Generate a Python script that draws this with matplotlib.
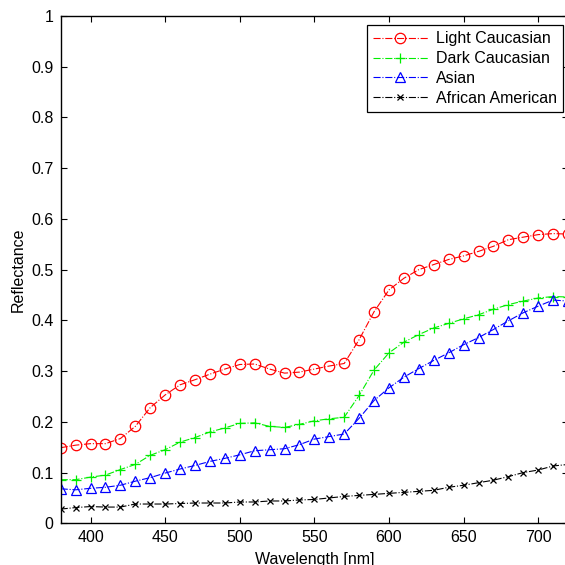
import matplotlib
matplotlib.use('Agg')
import matplotlib.pyplot as plt

# Skin reflectance spectra, 380-720 nm in 10 nm steps.
wavelength = list(range(380, 721, 10))

light_caucasian = [0.149, 0.154, 0.157, 0.157, 0.167, 0.191, 0.228, 0.253, 0.273, 0.283,
                   0.294, 0.304, 0.313, 0.314, 0.304, 0.296, 0.298, 0.304, 0.310, 0.315,
                   0.362, 0.417, 0.460, 0.483, 0.500, 0.510, 0.520, 0.527, 0.536, 0.546,
                   0.559, 0.564, 0.569, 0.571, 0.570]
dark_caucasian = [0.086, 0.086, 0.091, 0.095, 0.106, 0.116, 0.134, 0.145, 0.160, 0.169,
                  0.180, 0.188, 0.197, 0.198, 0.191, 0.189, 0.195, 0.202, 0.206, 0.209,
                  0.252, 0.302, 0.336, 0.357, 0.372, 0.385, 0.394, 0.403, 0.411, 0.422,
                  0.431, 0.438, 0.444, 0.447, 0.446]
asian = [0.068, 0.066, 0.069, 0.071, 0.075, 0.083, 0.090, 0.099, 0.107, 0.114,
         0.122, 0.128, 0.135, 0.143, 0.145, 0.147, 0.155, 0.166, 0.171, 0.176,
         0.207, 0.242, 0.267, 0.288, 0.305, 0.321, 0.336, 0.352, 0.366, 0.382,
         0.399, 0.415, 0.428, 0.440, 0.438]
african_american = [0.028, 0.031, 0.033, 0.032, 0.032, 0.038, 0.038, 0.038, 0.039, 0.040,
                     0.040, 0.040, 0.042, 0.042, 0.044, 0.044, 0.046, 0.047, 0.050, 0.053,
                     0.055, 0.057, 0.059, 0.061, 0.063, 0.065, 0.071, 0.075, 0.080, 0.085,
                     0.092, 0.100, 0.105, 0.113, 0.116]

labels = ['Light Caucasian', 'Dark Caucasian', 'Asian', 'African American']
xticks = [400, 450, 500, 550, 600, 650, 700]
yticks = [0, 0.1, 0.2, 0.3, 0.4, 0.5, 0.6, 0.7, 0.8, 0.9, 1]
ytick_labels = ['0', '0.1', '0.2', '0.3', '0.4', '0.5', '0.6', '0.7', '0.8', '0.9', '1']

plt.rcParams['font.family'] = ['Liberation Sans', 'DejaVu Sans']
plt.rcParams['font.size'] = 11.5

fig = plt.figure(figsize=(5.65, 5.65), dpi=100)
ax = fig.add_axes([0.1074, 0.0738, 0.898, 0.898])

series = [light_caucasian, dark_caucasian, asian, african_american]
styles = [('#ff0000', 'o'), ('#00ee00', '+'), ('#0000ff', '^'), ('#000000', 'x')]
for vals, lab, (col, mk) in zip(series, labels, styles):
    ax.plot(wavelength, vals, linestyle='-.', linewidth=0.8, color=col,
            marker=mk, markersize=7.5 if mk != 'x' else 5, markerfacecolor='none',
            markeredgecolor=col, markeredgewidth=0.9, label=lab)

ax.set_xlim(380, 720)
ax.set_ylim(0, 1)
ax.set_xticks(xticks)
ax.set_yticks(yticks)
ax.set_yticklabels(ytick_labels)
ax.tick_params(direction='in', top=True, right=True, length=4, width=0.8, pad=5)
for sp in ax.spines.values():
    sp.set_linewidth(1.0)

ax.set_xlabel('Wavelength [nm]', labelpad=5)
ax.set_ylabel('Reflectance', labelpad=4)

leg = ax.legend(loc='upper right', bbox_to_anchor=(0.99, 0.982), fancybox=False,
                framealpha=1, edgecolor='black', borderpad=0.4, labelspacing=0.3,
                handlelength=3.4, handletextpad=0.5, borderaxespad=0)
leg.get_frame().set_linewidth(0.9)

fig.savefig('out.png', dpi=100)
